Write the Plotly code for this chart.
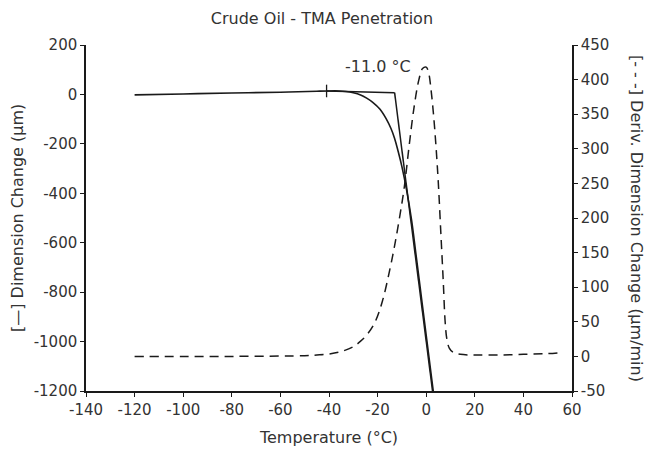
import plotly.graph_objects as go

# ---- data ----
temp_dim = [-120, -100, -80, -60, -45, -40, -36, -33, -30, -27, -24.5, -22, -19, -16.5,
            -14.5, -13, -11.5, -10, -8, -6, -4.3, -2.5, -0.7, 1.1, 2.9]
dim_change = [-2, 2, 6, 9, 13, 14, 14, 12, 7, -2, -15, -32, -60, -98,
              -138, -178, -232, -292, -390, -510, -640, -780, -920, -1060, -1200]

temp_deriv = [-120, -100, -80, -60, -50, -45, -40, -35, -30, -27, -24, -21, -18, -15, -13,
              -11, -9, -7, -5, -3, -1.5, 0, 1, 2, 3, 4, 5, 6, 7, 7.8, 8.5, 9.5, 11, 14,
              20, 30, 40, 50, 54]
deriv = [0, 0, 0, 0.5, 1, 2, 3.5, 7, 14, 22, 33, 50, 80, 125, 160,
         200, 245, 305, 360, 400, 416, 418, 410, 385, 350, 305, 250, 180, 110, 50, 25, 12, 6, 3,
         2, 2, 3, 4, 5]

# onset analysis: baseline tangent and steep tangent
baseline_tan_x = [-41, -13]
baseline_tan_y = [14, 7]
steep_tan_x = [-13, 2.6]
steep_tan_y = [7, -1200]
onset_label = "-11.0 °C"
onset_label_x = -20
onset_label_y = 115
tickmark_x = [-41]
tickmark_y = [14]

x_ticks = [-140, -120, -100, -80, -60, -40, -20, 0, 20, 40, 60]
y_ticks = [200, 0, -200, -400, -600, -800, -1000, -1200]
y2_ticks = [450, 400, 350, 300, 250, 200, 150, 100, 50, 0, -50]

def lbl(v):
    return str(v)  # plain hyphen-minus as in the reference

FONT = "DejaVu Sans"
TXT = "#333333"
FS_TICK = 15
FS_TITLE = 16

fig = go.Figure()
fig.add_trace(go.Scatter(x=temp_deriv, y=deriv, yaxis="y2", mode="lines",
                         line=dict(color="#1a1a1a", width=1.5, dash="9px,6px"),
                         line_shape="spline", hoverinfo="skip"))
fig.add_trace(go.Scatter(x=temp_dim, y=dim_change, mode="lines",
                         line=dict(color="#1a1a1a", width=1.6),
                         line_shape="spline", hoverinfo="skip"))
fig.add_trace(go.Scatter(x=baseline_tan_x, y=baseline_tan_y, mode="lines",
                         line=dict(color="#1a1a1a", width=1.5), hoverinfo="skip"))
fig.add_trace(go.Scatter(x=steep_tan_x, y=steep_tan_y, mode="lines",
                         line=dict(color="#1a1a1a", width=1.5), hoverinfo="skip"))
fig.add_trace(go.Scatter(x=tickmark_x, y=tickmark_y, mode="markers",
                         marker=dict(symbol="line-ns", size=9,
                                     line=dict(color="#1a1a1a", width=1.3)),
                         hoverinfo="skip"))

axis_common = dict(showgrid=False, zeroline=False, showline=True, linecolor="#1a1a1a",
                   linewidth=1.5, ticks="outside", ticklen=4, tickwidth=1.2,
                   tickcolor="#1a1a1a", tickfont=dict(family=FONT, size=FS_TICK, color=TXT))

fig.update_layout(
    width=657, height=458,
    margin=dict(l=86, r=85, t=45, b=67),
    plot_bgcolor="white", paper_bgcolor="white",
    showlegend=False,
    title=dict(text="Crude Oil - TMA Penetration", x=0.49, xanchor="center",
               y=0.96, yanchor="middle",
               font=dict(family=FONT, size=FS_TITLE, color=TXT)),
    xaxis=dict(range=[-140, 60], tickvals=x_ticks, ticktext=[lbl(v) for v in x_ticks],
               title=dict(text="Temperature (°C)",
                          font=dict(family=FONT, size=FS_TITLE, color=TXT),
                          standoff=14),
               **axis_common),
    yaxis=dict(range=[-1200, 200], tickvals=y_ticks, ticktext=[lbl(v) for v in y_ticks],
               **axis_common),
    yaxis2=dict(range=[-50, 450], tickvals=y2_ticks, ticktext=[lbl(v) for v in y2_ticks],
                overlaying="y", side="right", **axis_common),
    annotations=[
        dict(text=onset_label, x=onset_label_x, y=onset_label_y, xref="x", yref="y",
             showarrow=False, font=dict(family=FONT, size=FS_TITLE, color=TXT)),
        dict(text="[—] Dimension Change (µm)", x=17, y=218, xref="paper", yref="paper",
             showarrow=False, textangle=-90, xanchor="center", yanchor="middle",
             font=dict(family=FONT, size=FS_TITLE, color=TXT)),
        dict(text="[- - -] Deriv. Dimension Change (µm/min)", x=637, y=218,
             xref="paper", yref="paper", showarrow=False, textangle=90,
             xanchor="center", yanchor="middle",
             font=dict(family=FONT, size=FS_TITLE, color=TXT)),
    ],
)

# convert pixel-placed axis titles to paper coords
plot_w = 657 - 86 - 85
plot_h = 458 - 45 - 67
for a in fig.layout.annotations[1:]:
    a.x = (a.x - 86) / plot_w
    a.y = 1 - (a.y - 45) / plot_h

fig.write_html("out.html")
